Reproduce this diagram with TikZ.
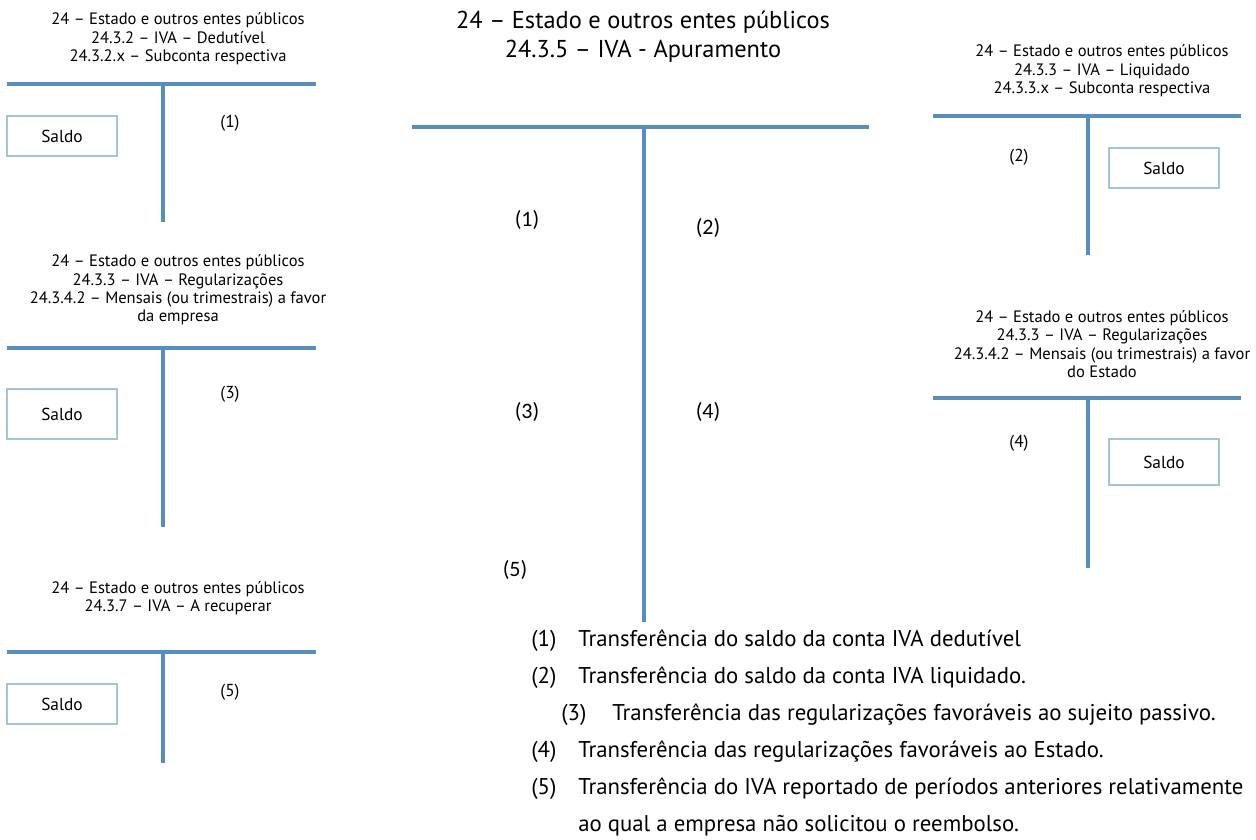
\documentclass[tikz,border=0pt]{standalone}
\usepackage{fontspec}
\setmainfont{PT Sans}
\newfontfamily\numfont{Carlito}
\definecolor{ledgerblue}{RGB}{88,142,189}
\definecolor{boxblue}{RGB}{163,196,220}

\begin{document}
\begin{tikzpicture}[x=0.75pt,y=-0.75pt,
  ledger/.style={draw=ledgerblue, line width=2.3pt},
  smalltitle/.style={align=center, inner sep=0pt, font=\fontsize{12.4}{13.8}\selectfont},
  bigtitle/.style={align=center, inner sep=0pt, font=\fontsize{18.3}{21.75}\selectfont},
  saldo/.style={draw=boxblue, line width=1.5pt, fill=white, minimum width=82.5pt,
    minimum height=30pt, inner sep=0pt, font=\fontsize{13}{15}\selectfont},
  sidelabel/.style={inner sep=0pt, font=\fontsize{13}{15}\selectfont},
  midlabel/.style={inner sep=0pt, font=\numfont\fontsize{16.5}{20}\selectfont},
  legend/.style={anchor=west, inner sep=0pt, text height=0.75em, text depth=0.25em,
    font=\fontsize{17.1}{20}\selectfont}]
\useasboundingbox (0,0) rectangle (1256,839);

% ---- 24.3.2 IVA dedutivel (top left)
\node[smalltitle] (tA) at (178,39) {24 – Estado e outros entes públicos\\24.3.2 – IVA – Dedutível\\24.3.2.x – Subconta respectiva};
\draw[ledger] (7,84) -- (316,84);
\draw[ledger] (163,84) -- (163,222);
\node[saldo] (sA) at (62,136) {Saldo};
\node[sidelabel] (lA) at (230,123) {(1)};

% ---- 24.3.4.2 a favor da empresa (middle left)
\node[smalltitle] (tC) at (178,290) {24 – Estado e outros entes públicos\\24.3.3 – IVA – Regularizações\\24.3.4.2 – Mensais (ou trimestrais) a favor\\da empresa};
\draw[ledger] (7,348) -- (316,348);
\draw[ledger] (163,348) -- (163,527);
\node[saldo, minimum height=38pt] (sC) at (62,414) {Saldo};
\node[sidelabel] (lC) at (230,394) {(3)};

% ---- 24.3.7 IVA a recuperar (bottom left)
\node[smalltitle] (tE) at (178,598) {24 – Estado e outros entes públicos\\24.3.7 – IVA – A recuperar};
\draw[ledger] (7,652) -- (316,652);
\draw[ledger] (163,652) -- (163,763);
\node[saldo] (sE) at (62,704) {Saldo};
\node[sidelabel] (lE) at (230,692) {(5)};

% ---- 24.3.3 IVA liquidado (top right)
\node[smalltitle] (tB) at (1102,71) {24 – Estado e outros entes públicos\\24.3.3 – IVA – Liquidado\\24.3.3.x – Subconta respectiva};
\draw[ledger] (933,116) -- (1241,116);
\draw[ledger] (1088,116) -- (1088,255);
\node[saldo] (sB) at (1164,168) {Saldo};
\node[sidelabel] (lB) at (1019,157) {(2)};

% ---- 24.3.4.2 a favor do Estado (middle right)
\node[smalltitle] (tD) at (1102,344) {24 – Estado e outros entes públicos\\24.3.3 – IVA – Regularizações\\24.3.4.2 – Mensais (ou trimestrais) a favor\\do Estado};
\draw[ledger] (933,398) -- (1241,398);
\draw[ledger] (1088,398) -- (1088,568);
\node[saldo, minimum height=35pt] (sD) at (1164,462) {Saldo};
\node[sidelabel] (lD) at (1019,443) {(4)};

% ---- 24.3.5 IVA apuramento (centre)
\node[bigtitle] (tM) at (643,37) {24 – Estado e outros entes públicos\\24.3.5 – IVA - Apuramento};
\draw[ledger] (412,127) -- (869,127);
\draw[ledger] (644,127) -- (644,622);
\node[midlabel] (m1) at (527,220) {(1)};
\node[midlabel] (m2) at (708,228) {(2)};
\node[midlabel] (m3) at (527,412) {(3)};
\node[midlabel] (m4) at (708,412) {(4)};
\node[midlabel] (m5) at (515,570) {(5)};

% ---- legend
\node[legend] (n1) at (531,643) {(1)};
\node[legend] (d1) at (578,643) {Transferência do saldo da conta IVA dedutível};
\node[legend] (n2) at (531,680) {(2)};
\node[legend] (d2) at (578,680) {Transferência do saldo da conta IVA liquidado.};
\node[legend] (n3) at (561,717) {(3)};
\node[legend] (d3) at (612,717) {Transferência das regularizações favoráveis ao sujeito passivo.};
\node[legend] (n4) at (531,754) {(4)};
\node[legend] (d4) at (578,754) {Transferência das regularizações favoráveis ao Estado.};
\node[legend] (n5) at (531,791) {(5)};
\node[legend] (d5) at (578,791) {Transferência do IVA reportado de períodos anteriores relativamente};
\node[legend] (d6) at (578,828) {ao qual a empresa não solicitou o reembolso.};
\end{tikzpicture}
\end{document}
